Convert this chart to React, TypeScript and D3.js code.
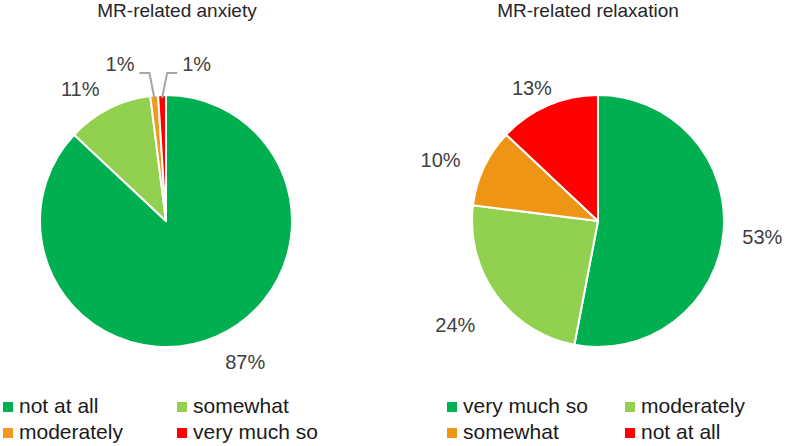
import React from 'react'
import * as d3 from 'd3'

// MR questionnaire answers, in percent
const anxietyCategories = ['not at all', 'somewhat', 'moderately', 'very much so']
const anxietyValues = [87, 11, 1, 1]
const anxietyColors = ['#00B050', '#92D050', '#F39A1E', '#FF0000']

const relaxCategories = ['very much so', 'moderately', 'somewhat', 'not at all']
const relaxValues = [53, 24, 10, 13]
const relaxColors = ['#00B050', '#92D050', '#EE9516', '#FF0000']

// label placement tweaks (degrees, radius factor) - mimics Excel best fit
const anxietyLabelTweak = [[-6, 1.28], [-6, 1.25], [0, 0], [0, 0]]
const relaxLabelTweak = [[0, 1.31], [0, 1.4], [-4, 1.34], [-3, 1.18]]

const W = 789
const H = 446
const FONT = '"Liberation Sans", Arial, sans-serif'

type PieProps = {
  title: string
  categories: string[]
  values: number[]
  colors: string[]
  tweak: number[][]
  cx: number
  cy: number
  r: number
  titleX: number
}

function Pie({ title, categories, values, colors, tweak, cx, cy, r, titleX }: PieProps) {
  const pie = d3.pie<number>().sort(null).value(d => d)
  const arcs = pie(values)
  const arc = d3.arc<d3.PieArcDatum<number>>().innerRadius(0).outerRadius(r)
  const polar = (ang: number, rad: number) => [cx + rad * Math.sin(ang), cy - rad * Math.cos(ang)]

  let smallIdx = 0
  return (
    <g>
      <text x={titleX} y={17} textAnchor="middle" fontSize={19} fill="#262626" fontFamily={FONT}>{title}</text>
      <g transform={`translate(${cx},${cy})`}>
        {arcs.map((a, i) => (
          <path key={categories[i]} d={arc(a) || ''} fill={colors[i]} stroke="#fff" strokeWidth={2} strokeLinejoin="round" />
        ))}
      </g>
      {arcs.map((a, i) => {
        const mid = (a.startAngle + a.endAngle) / 2
        const label = `${values[i]}%`
        if (values[i] < 3) {
          // small slices get a leader line going up then sideways
          const dir = smallIdx++ === 0 ? -1 : 1
          const [px, py] = polar(mid, r - 3)
          const ex = px + dir * 5
          const ey = cy - r - 22
          const hx = ex + dir * 10
          return (
            <g key={'l' + i}>
              <polyline points={`${px},${py} ${ex},${ey} ${hx},${ey}`} fill="none" stroke="#A6A6A6" strokeWidth={2} />
              <text x={hx + dir * 5} y={ey - 9} dy="0.35em" textAnchor={dir < 0 ? 'end' : 'start'} fontSize={20} fill="#404040" fontFamily={FONT}>{label}</text>
            </g>
          )
        }
        const [dAng, fac] = tweak[i]
        const [lx, ly] = polar(mid + (dAng * Math.PI) / 180, r * fac)
        return (
          <text key={'l' + i} x={lx} y={ly} dy="0.35em" textAnchor="middle" fontSize={20} fill="#404040" fontFamily={FONT}>{label}</text>
        )
      })}
    </g>
  )
}

type LegendProps = { categories: string[]; colors: string[]; x0: number; x1: number }

function Legend({ categories, colors, x0, x1 }: LegendProps) {
  const rows = [413, 439]
  return (
    <g fontFamily={FONT} fontSize={21} fill="#1a1a1a">
      {categories.map((c, i) => {
        const x = i % 2 === 0 ? x0 : x1
        const y = rows[Math.floor(i / 2)]
        return (
          <g key={c}>
            <rect x={x} y={y - 11} width={10} height={10} fill={colors[i]} />
            <text x={x + 16} y={y}>{c}</text>
          </g>
        )
      })}
    </g>
  )
}

export default function App() {
  return (
    <svg width={W} height={H} style={{ display: 'block', position: 'absolute', left: 0, top: 0, background: '#fff' }}>
      <Pie title="MR-related anxiety" categories={anxietyCategories} values={anxietyValues} colors={anxietyColors}
        tweak={anxietyLabelTweak} cx={166} cy={221} r={126} titleX={177} />
      <Pie title="MR-related relaxation" categories={relaxCategories} values={relaxValues} colors={relaxColors}
        tweak={relaxLabelTweak} cx={598} cy={221} r={126} titleX={588} />
      <Legend categories={anxietyCategories} colors={anxietyColors} x0={3} x1={177} />
      <Legend categories={relaxCategories} colors={relaxColors} x0={447} x1={625} />
    </svg>
  )
}
